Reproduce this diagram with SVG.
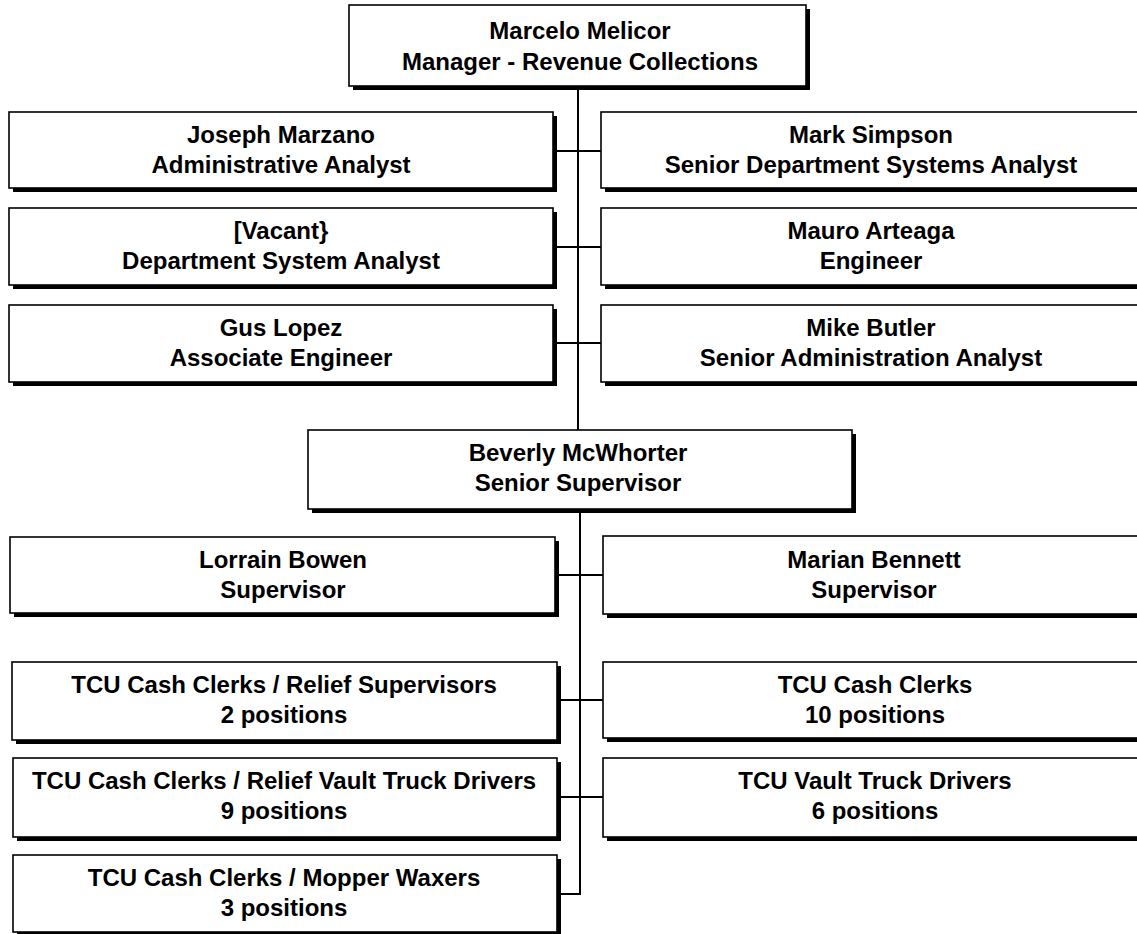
<svg xmlns="http://www.w3.org/2000/svg" width="1137" height="934" viewBox="0 0 1137 934">
<style>
.sh{fill:#000}
.bx{fill:#fff;stroke:#000;stroke-width:1.6}
text{font-family:"Liberation Sans",Arial,sans-serif;font-weight:bold;font-size:24px;text-anchor:middle;fill:#000}
.c{stroke:#000;stroke-width:2;fill:none}
</style>
<rect width="1137" height="934" fill="#fff"/>
<g id="connectors">
<path class="c" d="M578 86V430"/>
<path class="c" d="M553 151H601M553 247H601M553 343H601"/>
<path class="c" d="M580 509V894H557"/>
<path class="c" d="M555 575H603M557 700H603M557 797H603"/>
</g>
<g id="n-melicor"><rect class="sh" x="353" y="9" width="457" height="81"/><rect class="bx" x="349" y="5" width="457" height="81"/><text x="580" y="39">Marcelo Melicor</text><text x="580" y="70">Manager - Revenue Collections</text></g>
<g id="n-marzano"><rect class="sh" x="13" y="116" width="544" height="76"/><rect class="bx" x="9" y="112" width="544" height="76"/><text x="281" y="143">Joseph Marzano</text><text x="281" y="173">Administrative Analyst</text></g>
<g id="n-simpson"><rect class="sh" x="605" y="116" width="541" height="76"/><rect class="bx" x="601" y="112" width="541" height="76"/><text x="871" y="143">Mark Simpson</text><text x="871" y="173">Senior Department Systems Analyst</text></g>
<g id="n-vacant"><rect class="sh" x="13" y="212" width="544" height="77"/><rect class="bx" x="9" y="208" width="544" height="77"/><text x="281" y="239">[Vacant}</text><text x="281" y="269">Department System Analyst</text></g>
<g id="n-arteaga"><rect class="sh" x="605" y="212" width="541" height="77"/><rect class="bx" x="601" y="208" width="541" height="77"/><text x="871" y="239">Mauro Arteaga</text><text x="871" y="269">Engineer</text></g>
<g id="n-lopez"><rect class="sh" x="13" y="309" width="544" height="77"/><rect class="bx" x="9" y="305" width="544" height="77"/><text x="281" y="336">Gus Lopez</text><text x="281" y="366">Associate Engineer</text></g>
<g id="n-butler"><rect class="sh" x="605" y="309" width="541" height="77"/><rect class="bx" x="601" y="305" width="541" height="77"/><text x="871" y="336">Mike Butler</text><text x="871" y="366">Senior Administration Analyst</text></g>
<g id="n-mcwhorter"><rect class="sh" x="312" y="434" width="544" height="79"/><rect class="bx" x="308" y="430" width="544" height="79"/><text x="578" y="461">Beverly McWhorter</text><text x="578" y="491">Senior Supervisor</text></g>
<g id="n-bowen"><rect class="sh" x="14" y="541" width="545" height="76"/><rect class="bx" x="10" y="537" width="545" height="76"/><text x="283" y="568">Lorrain Bowen</text><text x="283" y="598">Supervisor</text></g>
<g id="n-bennett"><rect class="sh" x="607" y="540" width="540" height="78"/><rect class="bx" x="603" y="536" width="540" height="78"/><text x="874" y="568">Marian Bennett</text><text x="874" y="598">Supervisor</text></g>
<g id="n-tcu-rs"><rect class="sh" x="16" y="666" width="545" height="78"/><rect class="bx" x="12" y="662" width="545" height="78"/><text x="284" y="693">TCU Cash Clerks / Relief Supervisors</text><text x="284" y="723">2 positions</text></g>
<g id="n-tcu-cc"><rect class="sh" x="607" y="666" width="540" height="76"/><rect class="bx" x="603" y="662" width="540" height="76"/><text x="875" y="693">TCU Cash Clerks</text><text x="875" y="723">10 positions</text></g>
<g id="n-tcu-rvtd"><rect class="sh" x="17" y="762" width="544" height="79"/><rect class="bx" x="13" y="758" width="544" height="79"/><text x="284" y="789">TCU Cash Clerks / Relief Vault Truck Drivers</text><text x="284" y="819">9 positions</text></g>
<g id="n-tcu-vtd"><rect class="sh" x="607" y="762" width="540" height="79"/><rect class="bx" x="603" y="758" width="540" height="79"/><text x="875" y="789">TCU Vault Truck Drivers</text><text x="875" y="819">6 positions</text></g>
<g id="n-tcu-mw"><rect class="sh" x="17" y="859" width="544" height="77"/><rect class="bx" x="13" y="855" width="544" height="77"/><text x="284" y="886">TCU Cash Clerks / Mopper Waxers</text><text x="284" y="916">3 positions</text></g>
</svg>
